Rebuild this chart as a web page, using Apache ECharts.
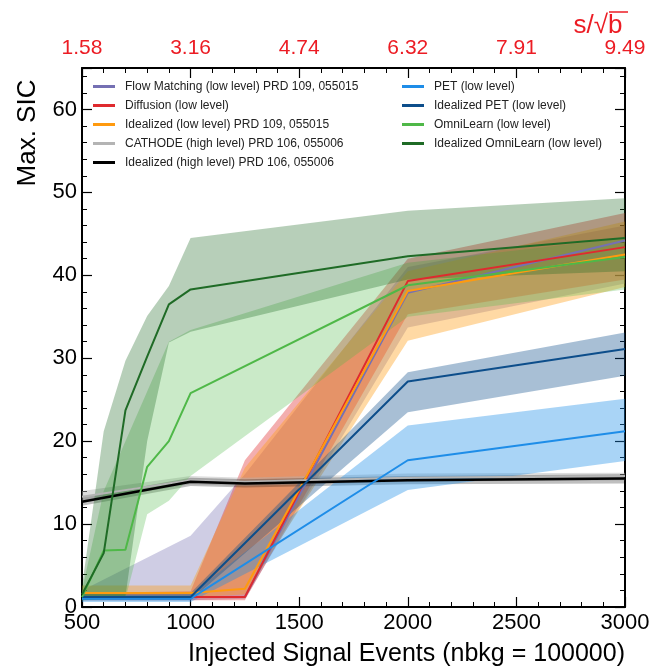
<!DOCTYPE html>
<html>
<head>
<meta charset="utf-8">
<script src="https://cdn.jsdelivr.net/npm/echarts@6/dist/echarts.min.js"></script>
<style>
  html, body { margin: 0; padding: 0; background: #fff; }
  #chart { width: 667px; height: 669px; }
</style>
</head>
<body>
<div id="chart"></div>
<script>
const FONT = '"Liberation Sans", Arial, Helvetica, sans-serif';

// Injected signal events on the bottom axis and s/sqrt(b) on the top axis
const xTicks = [500, 1000, 1500, 2000, 2500, 3000];
const bottomTickLabels = ['500', '1000', '1500', '2000', '2500', '3000'];
const topTickLabels = ['1.58', '3.16', '4.74', '6.32', '7.91', '9.49'];

// Injection points per group of models
const omniX = [500, 600, 700, 800, 900, 1000, 2000, 3000];
const lowX  = [500, 1000, 1250, 2000, 3000];
const highX = [500, 1000, 1250, 2000, 3000];
const petX  = [500, 1000, 2000, 3000];

// Max. SIC: median and band edges
const flowMid   = [1.2, 1.2, 1.2, 37.9, 44.2];
const flowLo    = [0.8, 0.8, 1.0, 33.7, 39.0];
const flowHi    = [2.0, 8.6, 16.0, 41.0, 46.0];

const diffMid   = [1.2, 1.2, 1.2, 39.3, 43.4];
const diffLo    = [0.8, 0.8, 0.8, 35.3, 39.5];
const diffHi    = [1.7, 1.9, 17.7, 42.0, 47.5];

const idealLowMid = [1.7, 1.7, 2.2, 38.1, 42.5];
const idealLowLo  = [1.2, 1.2, 1.5, 32.1, 38.6];
const idealLowHi  = [2.6, 2.6, 16.8, 40.5, 46.5];

const cathodeMid = [13.3, 15.3, 15.1, 15.6, 15.8];
const cathodeLo  = [12.7, 14.8, 14.6, 15.1, 15.3];
const cathodeHi  = [14.0, 15.8, 15.6, 16.1, 16.2];

const idealHighMid = [12.7, 15.1, 14.9, 15.3, 15.5];
const idealHighLo  = [12.2, 14.6, 14.4, 14.8, 14.9];
const idealHighHi  = [13.2, 15.6, 15.4, 15.8, 16.0];

const petMid = [1.0, 1.0, 17.7, 21.2];
const petLo  = [0.6, 0.6, 14.1, 17.6];
const petHi  = [1.4, 1.5, 21.9, 25.1];

const idealPetMid = [1.2, 1.2, 27.2, 31.1];
const idealPetLo  = [0.8, 0.8, 23.5, 27.9];
const idealPetHi  = [1.6, 1.7, 28.3, 33.1];

const omniMid = [1.2, 6.8, 6.9, 16.9, 20.0, 25.8, 38.8, 42.2];
const omniLo  = [0.8, 0.9, 1.0, 11.2, 12.8, 15.8, 35.0, 38.3];
const omniHi  = [2.0, 14.0, 20.0, 26.0, 32.0, 33.4, 41.5, 44.5];

const idealOmniMid = [1.5, 6.5, 23.7, 30.2, 36.5, 38.3, 42.3, 44.5];
const idealOmniLo  = [0.8, 1.0, 1.3, 20.0, 31.9, 33.2, 39.5, 40.5];
const idealOmniHi  = [2.5, 21.2, 29.7, 35.1, 38.7, 44.5, 47.8, 49.3];

const models = [
  { name: 'Flow Matching (low level) PRD 109, 055015', x: lowX, mid: flowMid, lo: flowLo, hi: flowHi, color: '#7570b3', alpha: 0.35 },
  { name: 'Diffusion (low level)', x: lowX, mid: diffMid, lo: diffLo, hi: diffHi, color: '#df2a2e', alpha: 0.38 },
  { name: 'Idealized (low level) PRD 109, 055015', x: lowX, mid: idealLowMid, lo: idealLowLo, hi: idealLowHi, color: '#ff9a0f', alpha: 0.38 },
  { name: 'CATHODE (high level) PRD 106, 055006', x: highX, mid: cathodeMid, lo: cathodeLo, hi: cathodeHi, color: '#b4b4b4', alpha: 0.45 },
  { name: 'Idealized (high level) PRD 106, 055006', x: highX, mid: idealHighMid, lo: idealHighLo, hi: idealHighHi, color: '#000000', alpha: 0.25, width: 2.5 },
  { name: 'PET (low level)', x: petX, mid: petMid, lo: petLo, hi: petHi, color: '#1e8de8', alpha: 0.38 },
  { name: 'Idealized PET (low level)', x: petX, mid: idealPetMid, lo: idealPetLo, hi: idealPetHi, color: '#0d4e8b', alpha: 0.36 },
  { name: 'OmniLearn (low level)', x: omniX, mid: omniMid, lo: omniLo, hi: omniHi, color: '#4fb848', alpha: 0.3 },
  { name: 'Idealized OmniLearn (low level)', x: omniX, mid: idealOmniMid, lo: idealOmniLo, hi: idealOmniHi, color: '#1f6b26', alpha: 0.32 }
];

const legendLeft = models.slice(0, 5).map(m => m.name);
const legendRight = models.slice(5).map(m => m.name);

// Uncertainty band: polygon along the upper edge and back along the lower edge
function bandSeries(m) {
  return {
    type: 'custom',
    coordinateSystem: 'cartesian2d',
    xAxisIndex: 0, yAxisIndex: 0,
    silent: true,
    clip: true,
    z: 1,
    data: [[m.x[0], m.lo[0]]],
    encode: { x: 0, y: 1 },
    renderItem: function (params, api) {
      if (params.dataIndex !== 0) return;
      const pts = [];
      for (let i = 0; i < m.x.length; i++) pts.push(api.coord([m.x[i], m.hi[i]]));
      for (let i = m.x.length - 1; i >= 0; i--) pts.push(api.coord([m.x[i], m.lo[i]]));
      return {
        type: 'polygon',
        shape: { points: pts },
        style: { fill: m.color, opacity: m.alpha, stroke: null }
      };
    }
  };
}

function lineSeries(m) {
  return {
    type: 'line',
    name: m.name,
    xAxisIndex: 0, yAxisIndex: 0,
    data: m.x.map((x, i) => [x, m.mid[i]]),
    showSymbol: false,
    symbol: 'none',
    z: 3,
    lineStyle: { color: m.color, width: m.width || 2 },
    itemStyle: { color: m.color }
  };
}

const axisCommon = {
  axisLine: { show: true, onZero: false, lineStyle: { color: '#000', width: 2 } },
  axisTick: { show: true, inside: true, length: 10, lineStyle: { color: '#000', width: 1.2 } },
  minorTick: { show: true, splitNumber: 5, length: 5, lineStyle: { color: '#000', width: 1 } },
  splitLine: { show: false },
  minorSplitLine: { show: false }
};

const legendCommon = {
  orient: 'vertical',
  top: 80,
  padding: 0,
  itemWidth: 22,
  itemHeight: 3,
  itemGap: 6,
  icon: 'rect',
  selectedMode: false,
  textStyle: { fontFamily: FONT, fontSize: 12, color: '#222', lineHeight: 13, padding: [0, 0, 0, 5] }
};

const option = {
  animation: false,
  backgroundColor: '#fff',
  grid: { left: 82, right: 42, top: 68, bottom: 62, containLabel: false },
  xAxis: [
    Object.assign({}, axisCommon, {
      type: 'value', position: 'bottom', min: 500, max: 3000, interval: 500,
      axisLabel: {
        fontFamily: FONT, fontSize: 22, color: '#000', margin: 5,
        formatter: v => { const k = xTicks.indexOf(v); return k >= 0 ? bottomTickLabels[k] : ''; }
      }
    }),
    Object.assign({}, axisCommon, {
      type: 'value', position: 'top', min: 500, max: 3000, interval: 500,
      axisLabel: {
        fontFamily: FONT, fontSize: 21, color: '#ec1c24', margin: 9,
        formatter: v => { const k = xTicks.indexOf(v); return k >= 0 ? topTickLabels[k] : ''; }
      }
    })
  ],
  yAxis: [
    Object.assign({}, axisCommon, {
      type: 'value', position: 'left', min: 0, max: 65, interval: 10,
      axisLabel: { fontFamily: FONT, fontSize: 22, color: '#000', margin: 5, showMaxLabel: false }
    }),
    Object.assign({}, axisCommon, {
      type: 'value', position: 'right', min: 0, max: 65, interval: 10,
      axisLabel: { show: false }
    })
  ],
  legend: [
    Object.assign({}, legendCommon, { left: 93, data: legendLeft }),
    Object.assign({}, legendCommon, { left: 402, data: legendRight })
  ],
  graphic: [
    {
      type: 'text', x: 28, y: 133, rotation: Math.PI / 2,
      style: { text: 'Max. SIC', font: '26px ' + FONT, fill: '#000', textAlign: 'center', textVerticalAlign: 'middle' }
    },
    {
      type: 'text', x: 625, y: 654,
      style: { text: 'Injected Signal Events (nbkg = 100000)', font: '25px ' + FONT, fill: '#000', textAlign: 'right', textVerticalAlign: 'middle' }
    },
    {
      type: 'text', x: 598, y: 26,
      style: { text: 's/\u221Ab', font: '26px ' + FONT, fill: '#ec1c24', textAlign: 'center', textVerticalAlign: 'middle' }
    },
    {
      type: 'line', shape: { x1: 609, y1: 12, x2: 628, y2: 12 },
      style: { stroke: '#ec1c24', lineWidth: 1.5 }
    }
  ],
  series: models.map(bandSeries).concat(models.map(lineSeries))
};

const chart = echarts.init(document.getElementById('chart'), null, { renderer: 'canvas' });
chart.setOption(option);
</script>
</body>
</html>
